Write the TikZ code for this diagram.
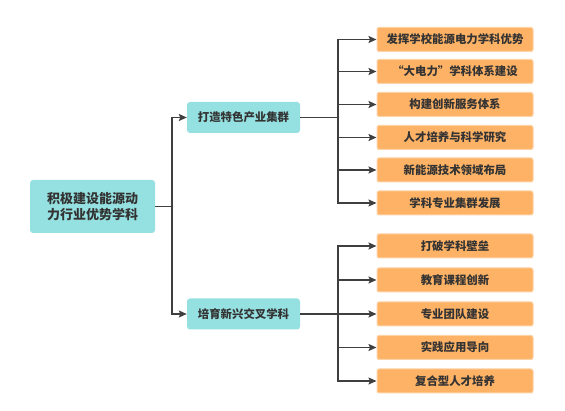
\documentclass[tikz,border=0pt]{standalone}
\usepackage{fontspec}
\setmainfont{Noto Sans CJK SC}
\usetikzlibrary{arrows.meta}
\definecolor{teal1}{HTML}{95E0E0}
\definecolor{orange1}{HTML}{FDB265}
\definecolor{orangeb}{HTML}{FDD3A6}
\definecolor{txt}{HTML}{333333}
\definecolor{ln}{HTML}{3F3F3F}
\begin{document}
\begin{tikzpicture}[x=1pt,y=-1pt,
  rootbox/.style={rectangle,rounded corners=3pt,fill=teal1,minimum width=125pt,minimum height=53pt,align=center,font=\fontsize{13}{16}\selectfont\bfseries,text=txt,inner sep=0pt},
  midbox/.style={rectangle,rounded corners=3pt,fill=teal1,minimum width=113pt,minimum height=31pt,font=\fontsize{11.4}{14}\selectfont\bfseries,text=txt,inner sep=0pt},
  leafbox/.style={rectangle,rounded corners=2pt,fill=orange1,draw=orangeb,line width=1pt,minimum width=156pt,minimum height=24pt,font=\fontsize{11.4}{14}\selectfont\bfseries,text=txt,inner sep=0pt},
  conn/.style={draw=ln,line width=1.5pt},
  arr/.style={conn,-{Stealth[length=8pt,width=7pt,inset=1.5pt]}}
]
\useasboundingbox (0,0) rectangle (565,411);
\node[rootbox] (root) at (92.5,206.5) {积极建设能源动\\力行业优势学科};
\node[midbox] (m1) at (243.5,117.5) {打造特色产业集群};
\node[midbox] (m2) at (243.5,314) {培育新兴交叉学科};
\node[leafbox] (a1) at (455,39.5) {发挥学校能源电力学科优势};
\node[leafbox] (a2) at (455,71.5) {“大电力”学科体系建设};
\node[leafbox] (a3) at (455,104.5) {构建创新服务体系};
\node[leafbox] (a4) at (455,137.5) {人才培养与科学研究};
\node[leafbox] (a5) at (455,170) {新能源技术领域布局};
\node[leafbox] (a6) at (455,203) {学科专业集群发展};
\node[leafbox] (b1) at (455,246) {打破学科壁垒};
\node[leafbox] (b2) at (455,280) {教育课程创新};
\node[leafbox] (b3) at (455,314) {专业团队建设};
\node[leafbox] (b4) at (455,347.5) {实践应用导向};
\node[leafbox] (b5) at (455,381) {复合型人才培养};
\coordinate (rj) at (172,206.5);
\coordinate (j1) at (338,117.5);
\coordinate (j2) at (338,314);
\draw[conn] (root.east) -- (rj);
\draw[arr] (rj) |- (m1.west);
\draw[arr] (rj) |- (m2.west);
\draw[conn] (m1.east) -- (j1);
\draw[conn] (m2.east) -- (j2);
\foreach \n in {a1,a2,a3,a4,a5,a6} \draw[arr] (j1) |- (\n.west);
\foreach \n in {b1,b2,b3,b4,b5} \draw[arr] (j2) |- (\n.west);
\end{tikzpicture}
\end{document}
